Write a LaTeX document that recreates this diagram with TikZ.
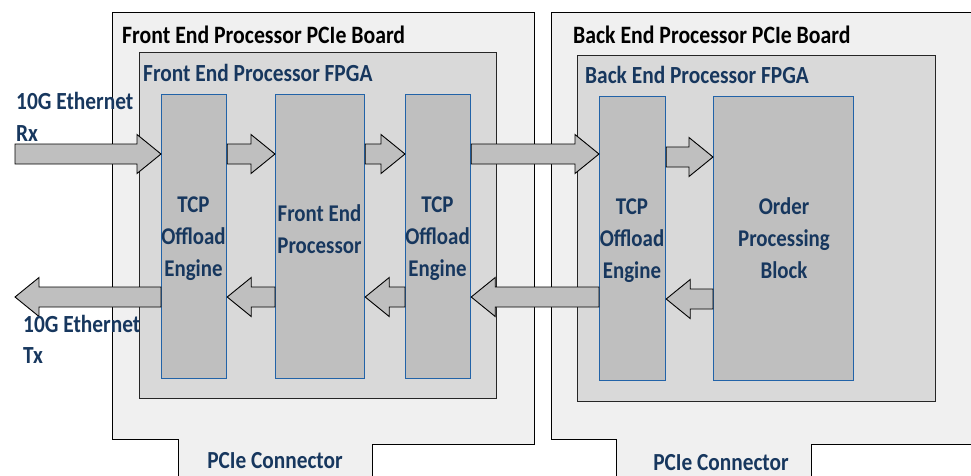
\documentclass[tikz,border=0pt]{standalone}
\usepackage{fontspec}
\setmainfont{Carlito}[FakeStretch=0.87]
\usetikzlibrary{calc}
\definecolor{boardfill}{HTML}{F0F0F0}
\definecolor{fpgafill}{HTML}{D9D9D9}
\definecolor{blockfill}{HTML}{BFBFBF}
\definecolor{blockedge}{HTML}{2263A8}
\definecolor{navy}{HTML}{17375E}
\newcommand\blkright[2]{\draw[blk] ($(#1)+(0,-10)$) -- ($(#2)+(-24,-10)$) -- ($(#2)+(-24,-19.5)$) -- (#2) -- ($(#2)+(-24,19.5)$) -- ($(#2)+(-24,10)$) -- ($(#1)+(0,10)$) -- cycle;}
\newcommand\blkleft[2]{\draw[blk] ($(#1)+(0,-10)$) -- ($(#2)+(24,-10)$) -- ($(#2)+(24,-19.5)$) -- (#2) -- ($(#2)+(24,19.5)$) -- ($(#2)+(24,10)$) -- ($(#1)+(0,10)$) -- cycle;}
\begin{document}
\begin{tikzpicture}[x=1pt,y=-1pt,
  board/.style={draw=black, fill=boardfill, line width=0.9pt},
  fpga/.style={draw=black!85, fill=fpgafill, line width=0.9pt, inner sep=0, anchor=north west},
  block/.style={draw=blockedge, fill=blockfill, line width=1.2pt, inner sep=0, anchor=north west},
  blk/.style={draw=black, fill=blockfill, line width=0.9pt, line join=miter},
  btitle/.style={font=\fontsize{25}{30}\selectfont\bfseries, anchor=base west, inner sep=0, text=black},
  ftitle/.style={font=\fontsize{24.6}{28}\selectfont\bfseries, anchor=base west, inner sep=0, text=navy},
  ctitle/.style={font=\fontsize{24.5}{28}\selectfont\bfseries, anchor=base, inner sep=0, text=navy},
  btext/.style={font=\fontsize{24}{32}\selectfont\bfseries, align=center, inner sep=0, text=navy},
]
\useasboundingbox (0,0) rectangle (971,475);
% boards
\draw[board] (112,12) -- (534,12) -- (534,444) -- (372,444) -- (372,480) -- (178,480) -- (178,439) -- (112,439) -- cycle;
\draw[board] (551,12) -- (985,12) -- (985,444) -- (811,444) -- (811,480) -- (616,480) -- (616,439) -- (551,439) -- cycle;
% FPGAs
\node[fpga, minimum width=357, minimum height=346] (ffpga) at (139,52) {};
\node[fpga, minimum width=358, minimum height=346] (bfpga) at (577,55) {};
% blocks
\node[block, minimum width=65, minimum height=284] (tcp1) at (161,94) {};
\node[block, minimum width=89, minimum height=284] (fep) at (275,94) {};
\node[block, minimum width=65, minimum height=284] (tcp2) at (405,94) {};
\node[block, minimum width=66, minimum height=284] (tcp3) at (599,96) {};
\node[block, minimum width=140, minimum height=284] (ord) at (713,96) {};
% coordinates for arrows
\coordinate (rxin) at (15,154);
\coordinate (txout) at (15,297);
\coordinate (r1) at (tcp1.west |- rxin);
\coordinate (r2s) at (tcp1.east |- rxin);
\coordinate (r2t) at (fep.west |- rxin);
\coordinate (r3s) at (fep.east |- rxin);
\coordinate (r3t) at (tcp2.west |- rxin);
\coordinate (r4s) at (tcp2.east |- rxin);
\coordinate (r4t) at (tcp3.west |- rxin);
\coordinate (r5s) at ($(tcp3.east |- rxin)+(0,3)$);
\coordinate (r5t) at ($(ord.west |- rxin)+(0,3)$);
\coordinate (l1s) at (tcp1.west |- txout);
\coordinate (l2s) at (fep.west |- txout);
\coordinate (l2t) at (tcp1.east |- txout);
\coordinate (l3s) at (tcp2.west |- txout);
\coordinate (l3t) at (fep.east |- txout);
\coordinate (l4s) at (tcp3.west |- txout);
\coordinate (l4t) at (tcp2.east |- txout);
\coordinate (l5s) at ($(ord.west |- txout)+(0,2)$);
\coordinate (l5t) at ($(tcp3.east |- txout)+(0,2)$);
% arrows
\blkright{rxin}{r1}
\blkright{r2s}{r2t}
\blkright{r3s}{r3t}
\blkright{r4s}{r4t}
\blkright{r5s}{r5t}
\blkleft{l1s}{txout}
\blkleft{l2s}{l2t}
\blkleft{l3s}{l3t}
\blkleft{l4s}{l4t}
\blkleft{l5s}{l5t}
% titles
\node[btitle] (fbt) at (122,43) {Front End Processor PCIe Board};
\node[btitle] (bbt) at (573,43) {Back End Processor PCIe Board};
\node[ftitle] (fft) at (143,81) {Front End Processor FPGA};
\node[ftitle] (bft) at (585,83) {Back End Processor FPGA};
\node[ftitle] (rx1) at (16,109) {10G Ethernet};
\node[ftitle] (rx2) at (16,141) {Rx};
\node[ftitle] (tx1) at (23,332) {10G Ethernet};
\node[ftitle] (tx2) at (23,363) {Tx};
\node[ctitle] (fcon) at (275,468) {PCIe Connector};
\node[ctitle] (bcon) at (721,470) {PCIe Connector};
% block texts
\node[btext] (tcp1t) at (193.5,239) {TCP\\Offload\\Engine};
\node[btext] (fept) at (319.5,229) {Front End\\Processor};
\node[btext] (tcp2t) at (437.5,239) {TCP\\Offload\\Engine};
\node[btext] (tcp3t) at (632,241) {TCP\\Offload\\Engine};
\node[btext] (ordt) at (784,238.5) {Order\\Processing\\Block};
\end{tikzpicture}
\end{document}
